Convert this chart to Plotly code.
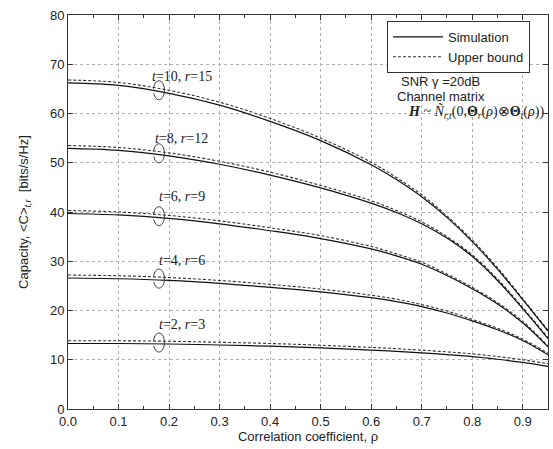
import numpy as np
import plotly.graph_objects as go

# Correlation coefficient grid
rho = [0.0, 0.1, 0.2, 0.3, 0.4, 0.5, 0.6, 0.65, 0.7, 0.75, 0.8, 0.85, 0.9, 0.95]

# Ergodic capacity from simulation, per (t, r) antenna configuration
sim_t10 = [66.2, 65.7, 64.1, 61.7, 58.4, 54.5, 49.6, 46.6, 43.1, 38.9, 34.0, 28.4, 22.2, 15.8]
sim_t8 = [52.9, 52.5, 51.4, 49.7, 47.5, 44.9, 41.8, 39.9, 37.6, 34.7, 31.0, 26.1, 20.4, 14.3]
sim_t6 = [39.7, 39.4, 38.7, 37.6, 36.2, 34.6, 32.5, 31.1, 29.4, 27.1, 24.4, 21.3, 17.5, 12.6]
sim_t4 = [26.6, 26.45, 26.1, 25.5, 24.7, 23.8, 22.6, 21.8, 20.8, 19.5, 17.9, 16.1, 13.9, 11.0]
sim_t2 = [13.3, 13.3, 13.2, 13.0, 12.75, 12.4, 11.95, 11.7, 11.4, 11.05, 10.65, 10.1, 9.45, 8.65]

# Upper bound on the capacity
ub_t10 = [66.8, 66.3, 64.7, 62.3, 59.0, 55.0, 50.1, 47.0, 43.5, 39.2, 34.3, 28.7, 22.4, 16.0]
ub_t8 = [53.5, 53.1, 52.0, 50.3, 48.1, 45.4, 42.3, 40.3, 38.0, 35.0, 31.3, 26.4, 20.6, 14.5]
ub_t6 = [40.3, 40.0, 39.3, 38.2, 36.8, 35.2, 33.0, 31.5, 29.8, 27.4, 24.7, 21.6, 17.8, 12.8]
ub_t4 = [27.2, 27.05, 26.7, 26.1, 25.3, 24.35, 23.1, 22.3, 21.2, 19.9, 18.2, 16.4, 14.2, 11.3]
ub_t2 = [13.85, 13.85, 13.75, 13.55, 13.3, 12.95, 12.5, 12.25, 11.95, 11.6, 11.2, 10.65, 10.0, 9.2]

config_labels = [
    "<i>t</i>=10, <i>r</i>=15",
    "<i>t</i>=8, <i>r</i>=12",
    "<i>t</i>=6, <i>r</i>=9",
    "<i>t</i>=4, <i>r</i>=6",
    "<i>t</i>=2, <i>r</i>=3",
]
label_y = [67.6, 55.0, 43.2, 30.2, 17.1]

x_ticks = [0.0, 0.1, 0.2, 0.3, 0.4, 0.5, 0.6, 0.7, 0.8, 0.9]
x_ticktext = ["0.0", "0.1", "0.2", "0.3", "0.4", "0.5", "0.6", "0.7", "0.8", "0.9"]
y_ticks = [0, 10, 20, 30, 40, 50, 60, 70, 80]

sims = [sim_t10, sim_t8, sim_t6, sim_t4, sim_t2]
ubs = [ub_t10, ub_t8, ub_t6, ub_t4, ub_t2]

fig = go.Figure()

for i, (s, u) in enumerate(zip(sims, ubs)):
    fig.add_trace(go.Scatter(
        x=rho, y=u, mode="lines", name="Upper bound",
        line=dict(color="#333333", width=1.1, dash="3px,2px", shape="spline", smoothing=1.0),
        legendgroup="ub", showlegend=(i == 0), legendrank=2,
    ))
    fig.add_trace(go.Scatter(
        x=rho, y=s, mode="lines", name="Simulation",
        line=dict(color="#111111", width=1.2, shape="spline", smoothing=1.0),
        legendgroup="sim", showlegend=(i == 0), legendrank=1,
    ))

# Loop markers around each pair of curves, at rho = 0.18
loop_rho = 0.18
theta = np.linspace(np.deg2rad(200), np.deg2rad(200 + 330), 40)
rx, ry = 5.5, 9.5
pts = [(rx * np.cos(a), ry * np.sin(a)) for a in theta]
loop_path = "M " + " L ".join(f"{px:.2f},{py:.2f}" for px, py in pts)

shapes = []
annotations = []
for i, (s, u) in enumerate(zip(sims, ubs)):
    yc = 0.5 * (np.interp(loop_rho, rho, s) + np.interp(loop_rho, rho, u))
    shapes.append(dict(
        type="path", path=loop_path,
        xsizemode="pixel", ysizemode="pixel",
        xanchor=loop_rho, yanchor=yc, xref="x", yref="y",
        line=dict(color="#333333", width=1),
    ))
    annotations.append(dict(
        x=0.225, y=label_y[i], xref="x", yref="y", text=config_labels[i],
        showarrow=False, font=dict(family="Liberation Serif", size=14, color="#222222"),
    ))

annotations += [
    dict(x=0.738, y=66.6, xref="x", yref="y", text="SNR \u03b3 =20dB", showarrow=False,
         font=dict(family="Liberation Sans", size=13, color="#222222")),
    dict(x=0.738, y=63.4, xref="x", yref="y", text="Channel matrix", showarrow=False,
         font=dict(family="Liberation Sans", size=13, color="#222222")),
    dict(x=0.946, y=60.3, xref="x", yref="y", xanchor="right",
         text="<b><i>H</i></b> ~ <i>\u00d1</i><sub><i>r,t</i></sub>(0,<b>\u0398</b><sub><i>r</i></sub>(<i>\u03c1</i>)"
              "\u2297<b>\u0398</b><sub><i>t</i></sub>(<i>\u03c1</i>))",
         showarrow=False,
         font=dict(family="Liberation Serif", size=14, color="#222222")),
]

axis_common = dict(
    showline=True, linecolor="#333333", linewidth=1, mirror="allticks",
    ticks="inside", ticklen=5, tickcolor="#333333",
    showgrid=True, gridcolor="#b0b0b0", griddash="dot", gridwidth=1,
    zeroline=False,
    tickfont=dict(family="Liberation Sans", size=13, color="#222222"),
)

fig.update_xaxes(
    range=[0, 0.95], tickvals=x_ticks, ticktext=x_ticktext,
    minor=dict(dtick=0.05, ticks="inside", ticklen=3, tickcolor="#333333", showgrid=False),
    title=dict(text="Correlation coefficient, \u03c1", standoff=4,
               font=dict(family="Liberation Sans", size=13, color="#222222")),
    **axis_common,
)
fig.update_yaxes(
    range=[0, 80], tickvals=y_ticks,
    title=dict(text="Capacity, &lt;C&gt;<sub><i>t,r</i></sub>  [bits/s/Hz]", standoff=18,
               font=dict(family="Liberation Sans", size=13, color="#222222")),
    **axis_common,
)

fig.update_layout(
    width=553, height=449,
    margin=dict(l=68, r=5, t=15, b=40),
    paper_bgcolor="white", plot_bgcolor="white",
    shapes=shapes, annotations=annotations,
    legend=dict(
        x=0.9625, y=0.985, xanchor="right", yanchor="top",
        bgcolor="white", bordercolor="#333333", borderwidth=1,
        font=dict(family="Liberation Sans", size=13, color="#222222"),
        tracegroupgap=0, itemwidth=50,
    ),
)

fig.write_html("out.html")
